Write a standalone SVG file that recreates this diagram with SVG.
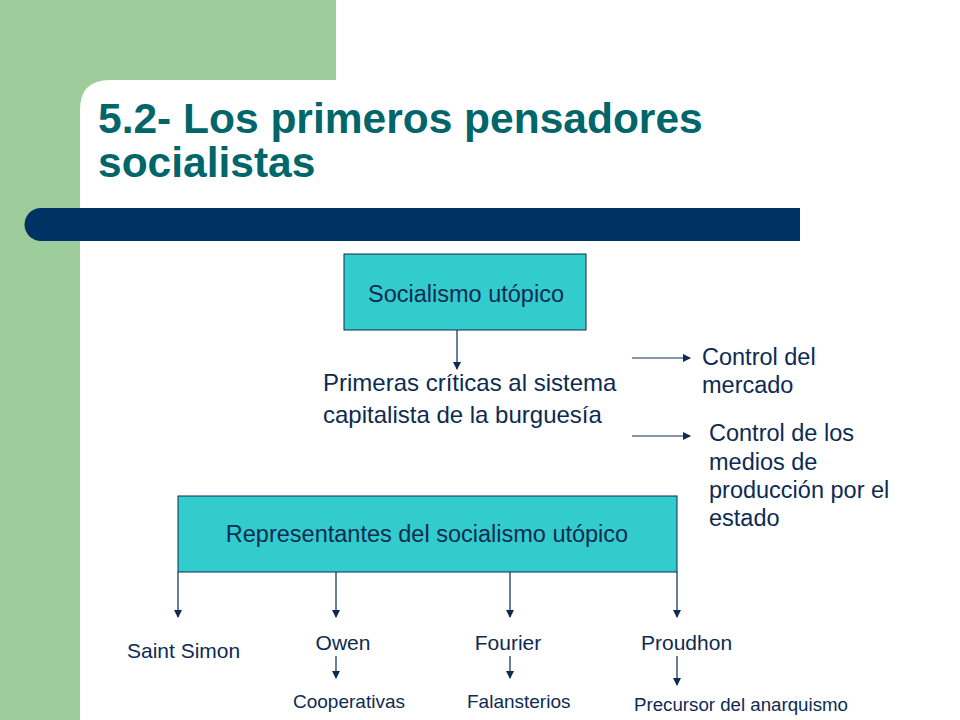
<svg xmlns="http://www.w3.org/2000/svg" width="960" height="720" viewBox="0 0 960 720">
<defs>
<marker id="ah" markerWidth="8" markerHeight="8" refX="7" refY="4" orient="auto" markerUnits="userSpaceOnUse">
<path d="M0,0 L8,4 L0,8 Z" fill="#0D2B52"/>
</marker>
<style>
.t{font-family:"Liberation Sans",Arial,sans-serif;fill:#0D2B52}
.box{fill:#33CCCC;stroke:#0D2B52;stroke-width:1}
.c{stroke:#0D2B52;stroke-width:1.2;fill:none;marker-end:url(#ah)}
</style>
</defs>
<rect x="0" y="0" width="960" height="720" fill="#ffffff"/>
<path d="M0,0 H336 V80 H110 Q80,80 80,110 V720 H0 Z" fill="#9DCD9A"/>
<path d="M41,208 H800 V241 H41 A16.5,16.5 0 0 1 41,208 Z" fill="#003363"/>
<g id="title">
<text class="t" x="98" y="133" font-size="42.5" font-weight="bold" style="fill:#00666A">5.2- Los primeros pensadores</text>
<text class="t" x="98" y="177" font-size="42.5" font-weight="bold" style="fill:#00666A">socialistas</text>
</g>
<g id="n-socialismo">
<rect class="box" x="344" y="254" width="242" height="76"/>
<text class="t" x="466" y="302" font-size="23.5" text-anchor="middle">Socialismo utópico</text>
</g>
<g id="n-primeras">
<text class="t" x="323" y="391" font-size="24">Primeras críticas al sistema</text>
<text class="t" x="323" y="423" font-size="24">capitalista de la burguesía</text>
</g>
<g id="n-control1">
<text class="t" x="702" y="365" font-size="23.5">Control del</text>
<text class="t" x="702" y="393" font-size="23.5">mercado</text>
</g>
<g id="n-control2">
<text class="t" x="709" y="441" font-size="23.5">Control de los</text>
<text class="t" x="709" y="470" font-size="23.5">medios de</text>
<text class="t" x="709" y="498" font-size="23.5">producción por el</text>
<text class="t" x="709" y="526" font-size="23.5">estado</text>
</g>
<g id="n-representantes">
<rect class="box" x="178" y="496" width="499" height="76"/>
<text class="t" x="427" y="542" font-size="23.5" text-anchor="middle">Representantes del socialismo utópico</text>
</g>
<g id="n-saint">
<text class="t" x="127" y="658" font-size="21">Saint Simon</text>
</g>
<g id="n-owen">
<text class="t" x="343" y="650" font-size="21" text-anchor="middle">Owen</text>
</g>
<g id="n-fourier">
<text class="t" x="508" y="650" font-size="21" text-anchor="middle">Fourier</text>
</g>
<g id="n-proudhon">
<text class="t" x="641" y="650" font-size="21">Proudhon</text>
</g>
<g id="n-coop">
<text class="t" x="293" y="708" font-size="19">Cooperativas</text>
</g>
<g id="n-falan">
<text class="t" x="467" y="708" font-size="19">Falansterios</text>
</g>
<g id="n-precursor">
<text class="t" x="634" y="711" font-size="18.7">Precursor del anarquismo</text>
</g>
<g id="connectors">
<line class="c" x1="457" y1="330" x2="457" y2="369"/>
<line class="c" x1="632" y1="358" x2="690" y2="358"/>
<line class="c" x1="632" y1="436" x2="690" y2="436"/>
<line class="c" x1="178" y1="572" x2="178" y2="617"/>
<line class="c" x1="336" y1="572" x2="336" y2="617"/>
<line class="c" x1="510" y1="572" x2="510" y2="617"/>
<line class="c" x1="677" y1="572" x2="677" y2="617"/>
<line class="c" x1="336" y1="656" x2="336" y2="678"/>
<line class="c" x1="510" y1="656" x2="510" y2="678"/>
<line class="c" x1="677" y1="656" x2="677" y2="685"/>
</g>
</svg>
